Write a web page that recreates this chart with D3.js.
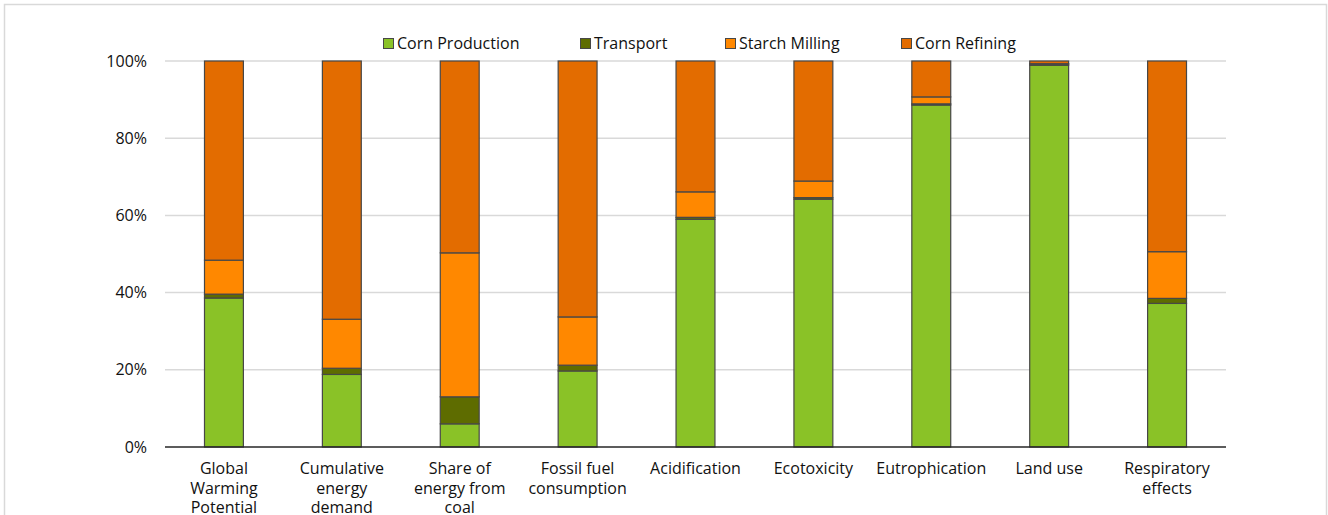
<!DOCTYPE html>
<html>
<head>
<meta charset="utf-8">
<script src="https://cdn.jsdelivr.net/npm/d3@7"></script>
<style>
  html, body { margin: 0; padding: 0; background: #fff; }
  svg { display: block; }
  text { font-family: "Open Sans", "Noto Sans", sans-serif; fill: #111; }
</style>
</head>
<body>
<svg id="chart" width="1328" height="515"></svg>
<script>
// ---- data ----
const categories = [
  "Global\nWarming\nPotential",
  "Cumulative\nenergy\ndemand",
  "Share of\nenergy from\ncoal",
  "Fossil fuel\nconsumption",
  "Acidification",
  "Ecotoxicity",
  "Eutrophication",
  "Land use",
  "Respiratory\neffects"
];
const seriesNames = ["Corn Production", "Transport", "Starch Milling", "Corn Refining"];
const cornProduction = [38.6, 18.8, 6.0, 19.7, 59.0, 64.2, 88.6, 98.9, 37.2];
const transport      = [1.0,  1.6,  7.0, 1.5,  0.5,  0.4,  0.3,  0.3,  1.3];
const starchMilling  = [8.8,  12.7, 37.3, 12.5, 6.6,  4.3,  1.8,  0.1,  12.1];
const cornRefining   = [51.6, 66.9, 49.7, 66.3, 33.9, 31.1, 9.3,  0.7,  49.4];
const yTicks = [0, 0.2, 0.4, 0.6, 0.8, 1.0];
const colors = ["#8ac227", "#5e6c00", "#ff8800", "#e36c00"];

(function () {
// ---- table for stacking ----
const seriesValues = [cornProduction, transport, starchMilling, cornRefining];
const table = categories.map((c, i) => {
  const row = { category: c };
  seriesNames.forEach((s, j) => { row[s] = seriesValues[j][i] / 100; });
  return row;
});
const stacked = d3.stack().keys(seriesNames)(table);

// ---- layout ----
const svg = d3.select("#chart");
const mLeft = 165, mRight = 1226, mTop = 61, mBottom = 447;
const fs = 16;

// outer frame
svg.append("rect")
  .attr("x", 4.5).attr("y", 4.5)
  .attr("width", 1322).attr("height", 700)
  .attr("fill", "none").attr("stroke", "#d9d9d9").attr("stroke-width", 1.5);

const x = d3.scaleBand().domain(categories).range([mLeft, mRight])
  .paddingInner(0.67).paddingOuter(0.335);
const y = d3.scaleLinear().domain([0, 1]).range([mBottom, mTop]);
const color = d3.scaleOrdinal().domain(seriesNames).range(colors);

// gridlines
svg.append("g").selectAll("line")
  .data(yTicks.filter(t => t > 0))
  .join("line")
  .attr("x1", mLeft).attr("x2", mRight)
  .attr("y1", d => y(d)).attr("y2", d => y(d))
  .attr("stroke", "#d9d9d9").attr("stroke-width", 1.5);

// y axis labels
const yAxis = d3.axisLeft(y).tickValues(yTicks).tickFormat(d3.format(".0%")).tickSize(0).tickPadding(18);
const yG = svg.append("g").attr("transform", `translate(${mLeft},0)`).call(yAxis);
yG.select(".domain").remove();
yG.selectAll("text").attr("font-size", fs).attr("font-family", "'Open Sans', sans-serif").attr("fill", "#111");

// bars
svg.append("g").selectAll("g")
  .data(stacked)
  .join("g")
  .attr("fill", d => color(d.key))
  .selectAll("rect")
  .data(d => d)
  .join("rect")
  .attr("x", d => x(d.data.category))
  .attr("width", x.bandwidth())
  .attr("y", d => y(d[1]))
  .attr("height", d => y(d[0]) - y(d[1]))
  .attr("stroke", "#474747")
  .attr("stroke-width", 1.2);

// x axis line
svg.append("line")
  .attr("x1", mLeft).attr("x2", mRight)
  .attr("y1", mBottom).attr("y2", mBottom)
  .attr("stroke", "#262626").attr("stroke-width", 1.5);

// x labels
const xLab = svg.append("g");
categories.forEach(c => {
  const lines = c.split("\n");
  const cx = x(c) + x.bandwidth() / 2;
  const t = xLab.append("text")
    .attr("text-anchor", "middle")
    .attr("font-size", fs)
    .attr("x", cx)
    .attr("y", 474);
  lines.forEach((ln, k) => {
    t.append("tspan").attr("x", cx).attr("y", 474 + k * 19.5).text(ln);
  });
});

// legend
const legendX = [383, 580, 725, 901];
const leg = svg.append("g");
seriesNames.forEach((s, i) => {
  const g = leg.append("g").attr("transform", `translate(${legendX[i]},38)`);
  g.append("rect").attr("x", 0.5).attr("y", 0.5).attr("width", 10).attr("height", 10)
    .attr("fill", color(s)).attr("stroke", "#474747").attr("stroke-width", 1);
  g.append("text").attr("x", 14).attr("y", 11).attr("font-size", fs).text(s);
});
})();
</script>
</body>
</html>
